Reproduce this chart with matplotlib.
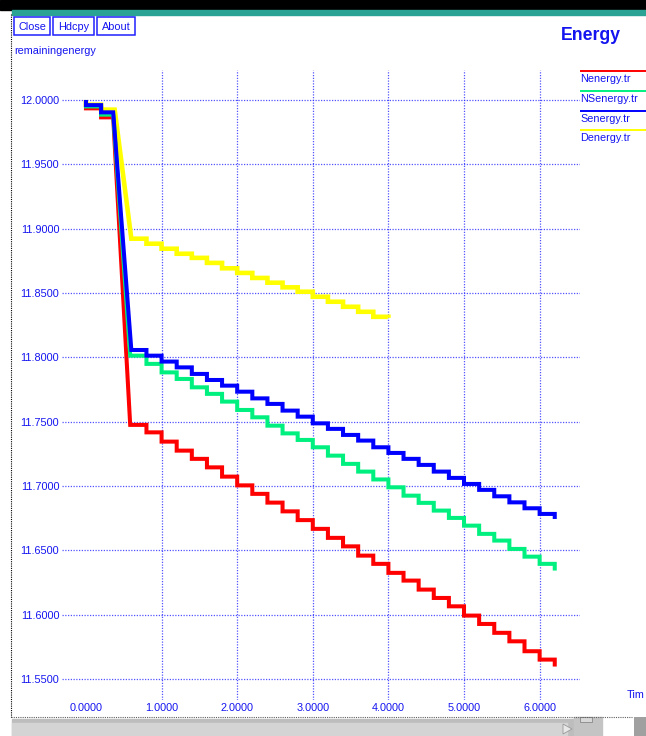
import matplotlib
matplotlib.use("Agg")
import matplotlib.pyplot as plt
from matplotlib.patches import Rectangle, Polygon

plt.rcParams['font.family'] = ['Liberation Sans', 'DejaVu Sans']

# --- data ---
x_ticks = [0.0, 1.0, 2.0, 3.0, 4.0, 5.0, 6.0]
y_ticks = [11.55, 11.60, 11.65, 11.70, 11.75, 11.80, 11.85, 11.90, 11.95, 12.00]

start_energy = 12.0
step_times = [0.6, 0.8, 1.0, 1.2, 1.4, 1.6, 1.8, 2.0, 2.2, 2.4, 2.6, 2.8, 3.0, 3.2,
              3.4, 3.6, 3.8, 4.0, 4.2, 4.4, 4.6, 4.8, 5.0, 5.2, 5.4, 5.6, 5.8, 6.0, 6.2]

names = ['Nenergy.tr', 'NSenergy.tr', 'Senergy.tr', 'Denergy.tr']
colors = ['#ff0000', '#00f080', '#0000ff', '#ffff00']

# levels before the big drop (t 0-0.2, t 0.2-drop)
n_head = [11.9935, 11.9865]
ns_head = [11.9950, 11.9886]
s_head = [11.9960, 11.9904]
d_head = [11.9963, 11.9925]

# (drop start, drop end) times
n_drop = (0.36, 0.585)
ns_drop = (0.36, 0.585)
s_drop = (0.36, 0.60)
d_drop = (0.38, 0.60)

n_tail = [11.7475, 11.7417, 11.7345, 11.7275, 11.7211, 11.7145, 11.7073, 11.7005,
          11.6939, 11.6871, 11.6803, 11.6735, 11.6667, 11.6597, 11.6531, 11.6459,
          11.6395, 11.6325, 11.6265, 11.6195, 11.6130, 11.6065, 11.5993, 11.5928,
          11.5859, 11.5793, 11.5716, 11.5651]
ns_tail = [11.8013, 11.7949, 11.7883, 11.7832, 11.7767, 11.7716, 11.7656, 11.7591,
           11.7534, 11.7469, 11.7409, 11.7358, 11.7301, 11.7236, 11.7172, 11.7112,
           11.7051, 11.6990, 11.6925, 11.6869, 11.6809, 11.6752, 11.6692, 11.6628,
           11.6576, 11.6511, 11.6451, 11.6395]
s_tail = [11.8057, 11.8013, 11.7967, 11.7922, 11.7871, 11.7824, 11.7780, 11.7733,
          11.7681, 11.7638, 11.7586, 11.7539, 11.7487, 11.7444, 11.7397, 11.7353,
          11.7301, 11.7257, 11.7211, 11.7164, 11.7112, 11.7063, 11.7016, 11.6970,
          11.6920, 11.6873, 11.6827, 11.6783]
d_tail = [11.8922, 11.8883, 11.8844, 11.8805, 11.8773, 11.8734, 11.8692, 11.8656,
          11.8617, 11.8580, 11.8544, 11.8510, 11.8471, 11.8432, 11.8393, 11.8354,
          11.8315]

n_end = 11.5597
ns_end = 11.6343
s_end = 11.6744
d_end = 11.8307


def build_path(head, drop, tail, end_value):
    xs = [0.0]
    ys = [start_energy]
    edges = [0.0, 0.2, drop[0]]
    for i, v in enumerate(head):
        xs += [edges[i], edges[i + 1]]
        ys += [v, v]
    xs.append(drop[1])
    ys.append(tail[0])
    for i, v in enumerate(tail):
        xs += [step_times[i], step_times[i + 1]]
        ys += [v, v]
    xs.append(step_times[len(tail)])
    ys.append(end_value)
    return xs, ys


W, H = 646, 736
fig = plt.figure(figsize=(W / 100, H / 100), dpi=100)
fig.patch.set_facecolor('white')

# window decoration, drawn in pixel coords
bg = fig.add_axes([0, 0, 1, 1], zorder=-5)
bg.set_xlim(0, W)
bg.set_ylim(H, 0)
bg.axis('off')
bg.add_patch(Rectangle((0, 0), W, 10, color='black'))
bg.add_patch(Rectangle((12, 10), W - 12, 5, color='#2aa394'))
bg.plot([11, 11], [14, 718], color='black', lw=0.8, ls=(0, (1, 1)))
bg.plot([11, 632], [717, 717], color='#606060', lw=0.8, ls=(0, (1, 1)))
bg.add_patch(Rectangle((12, 719), 562, 17, color='#bdbdbd'))
bg.add_patch(Rectangle((12, 723), 555, 12, color='#d4d4d4'))
bg.add_patch(Polygon([[563, 724], [563, 734], [572, 729]], closed=True, color='#e8e8e8', ec='#999999', lw=0.6))
bg.add_patch(Rectangle((574, 717), 28, 19, color='#c4c4c4'))
bg.add_patch(Rectangle((580, 717), 12, 5, fc='#d8d8d8', ec='#888888', lw=0.6))
plt.rcParams['hatch.color'] = '#202020'
bg.add_patch(Rectangle((634, 717), 12, 19, fc='#a0a0a0', ec='none', hatch='xxxxx', lw=0))

text_blue = '#1414f0'
for label, x0, x1 in [('Close', 14, 50), ('Hdcpy', 53, 94), ('About', 97, 135)]:
    bg.add_patch(Rectangle((x0, 17), x1 - x0, 18, fill=False, ec='#2020ff', lw=1.1))
    bg.text((x0 + x1) / 2, 26.5, label, color=text_blue, fontsize=7.8, ha='center', va='center')
bg.text(14, 51.5, 'remainingenergy', color=text_blue, fontsize=7.8, ha='left', va='center')
bg.text(591, 36, 'Energy', color=text_blue, fontsize=12.7, fontweight='bold', ha='center', va='center')
# the axis name is cut by the window edge in the original
bg.text(627, 695, 'Tim', color=text_blue, fontsize=7.8, ha='left', va='center')

# legend at the right, line above each name
legend_y = [70.7, 91, 110.7, 130.3]
for name, c, ly in zip(names, colors, legend_y):
    bg.plot([580, 646], [ly, ly], color=c, lw=1.4, solid_capstyle='butt')
    bg.text(580, ly + 8, name, color=text_blue, fontsize=7.8, ha='left', va='center')

# plot area
ax = fig.add_axes([62 / W, (H - 700) / H, (580 - 62) / W, (700 - 70) / H])
ax.set_facecolor('none')
ax.set_xlim(-0.317, 6.534)
ax.set_ylim(11.5337, 12.0233)
for s in ax.spines.values():
    s.set_visible(False)

ax.set_xticks(x_ticks)
ax.set_xticklabels(['%.4f' % v for v in x_ticks])
ax.set_yticks(y_ticks)
ax.set_yticklabels(['%.4f' % v for v in y_ticks])
ax.tick_params(length=0, labelsize=7.8, labelcolor=text_blue)
ax.tick_params(axis='y', pad=2.0)
ax.tick_params(axis='x', pad=2.5)
ax.set_axisbelow(True)
ax.grid(True, color='#2828ff', lw=0.9, ls=(0, (1, 1.2)), alpha=0.8)
ax.xaxis.get_gridlines()[0].set_visible(False)

series = [
    (d_head, d_drop, d_tail, d_end, colors[3], 3.3),
    (n_head, n_drop, n_tail, n_end, colors[0], 2.9),
    (ns_head, ns_drop, ns_tail, ns_end, colors[1], 2.9),
    (s_head, s_drop, s_tail, s_end, colors[2], 2.9),
]
for head, drop, tail, end, c, lw in series:
    xs, ys = build_path(head, drop, tail, end)
    ax.plot(xs, ys, color=c, lw=lw, solid_joinstyle='miter', solid_capstyle='butt')

fig.savefig('out.png', dpi=100)
